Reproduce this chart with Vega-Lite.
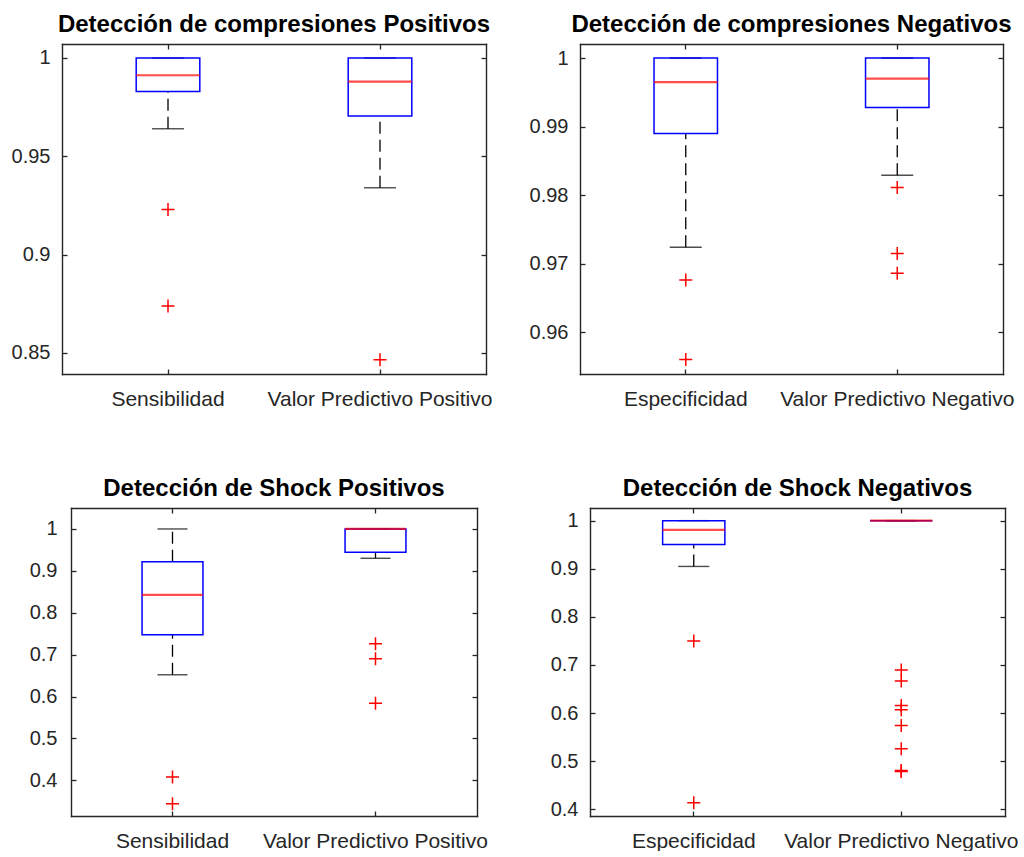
{
  "$schema": "https://vega.github.io/schema/vega-lite/v6.json",
  "background": "white",
  "padding": {"left": 0, "top": 12, "right": 0, "bottom": 0},
  "datasets": {
    "stats": [
      {"panel": "cp", "cat": "Sensibilidad", "lo": 0.964, "q1": 0.9829, "med": 0.9912, "q3": 1, "hi": 1},
      {"panel": "cp", "cat": "Valor Predictivo Positivo", "lo": 0.934, "q1": 0.9705, "med": 0.988, "q3": 1, "hi": 1},
      {"panel": "cn", "cat": "Especificidad", "lo": 0.9724, "q1": 0.989, "med": 0.9965, "q3": 1, "hi": 1},
      {"panel": "cn", "cat": "Valor Predictivo Negativo", "lo": 0.9829, "q1": 0.9928, "med": 0.997, "q3": 1, "hi": 1},
      {"panel": "sp", "cat": "Sensibilidad", "lo": 0.652, "q1": 0.7473, "med": 0.8427, "q3": 0.922, "hi": 1},
      {"panel": "sp", "cat": "Valor Predictivo Positivo", "lo": 0.93, "q1": 0.9443, "med": 1, "q3": 1, "hi": 1},
      {"panel": "sn", "cat": "Especificidad", "lo": 0.9048, "q1": 0.9503, "med": 0.9807, "q3": 1, "hi": 1},
      {"panel": "sn", "cat": "Valor Predictivo Negativo", "lo": 1, "q1": 1, "med": 1, "q3": 1, "hi": 1}
    ],
    "outliers": [
      {"panel": "cp", "cat": "Sensibilidad", "value": 0.9229},
      {"panel": "cp", "cat": "Sensibilidad", "value": 0.8739},
      {"panel": "cp", "cat": "Valor Predictivo Positivo", "value": 0.8466},
      {"panel": "cn", "cat": "Especificidad", "value": 0.9676},
      {"panel": "cn", "cat": "Especificidad", "value": 0.956},
      {"panel": "cn", "cat": "Valor Predictivo Negativo", "value": 0.9811},
      {"panel": "cn", "cat": "Valor Predictivo Negativo", "value": 0.9715},
      {"panel": "cn", "cat": "Valor Predictivo Negativo", "value": 0.9686},
      {"panel": "sp", "cat": "Sensibilidad", "value": 0.4079},
      {"panel": "sp", "cat": "Sensibilidad", "value": 0.3445},
      {"panel": "sp", "cat": "Valor Predictivo Positivo", "value": 0.7259},
      {"panel": "sp", "cat": "Valor Predictivo Positivo", "value": 0.69},
      {"panel": "sp", "cat": "Valor Predictivo Positivo", "value": 0.5843},
      {"panel": "sn", "cat": "Especificidad", "value": 0.7496},
      {"panel": "sn", "cat": "Especificidad", "value": 0.4138},
      {"panel": "sn", "cat": "Valor Predictivo Negativo", "value": 0.6896},
      {"panel": "sn", "cat": "Valor Predictivo Negativo", "value": 0.6669},
      {"panel": "sn", "cat": "Valor Predictivo Negativo", "value": 0.6158},
      {"panel": "sn", "cat": "Valor Predictivo Negativo", "value": 0.6069},
      {"panel": "sn", "cat": "Valor Predictivo Negativo", "value": 0.5744},
      {"panel": "sn", "cat": "Valor Predictivo Negativo", "value": 0.5256},
      {"panel": "sn", "cat": "Valor Predictivo Negativo", "value": 0.4807},
      {"panel": "sn", "cat": "Valor Predictivo Negativo", "value": 0.4787}
    ]
  },
  "spacing": 28,
  "hconcat": [
    {
      "columns": 1,
      "align": "none",
      "spacing": 67,
      "concat": [
        {
          "width": 424, "height": 330,
          "title": {"text": "Detección de compresiones Positivos"},
          "resolve": {"axis": {"x": "independent", "y": "independent"}},
          "layer": [
            {
              "data": {"name": "stats"},
              "transform": [{"filter": "datum.panel === 'cp'"}],
              "mark": {"type": "rule", "color": "black", "strokeWidth": 1.3, "strokeDash": [12, 6]},
              "encoding": {
                "x": {"field": "cat", "type": "nominal", "scale": {"type": "band", "domain": ["Sensibilidad", "Valor Predictivo Positivo"], "paddingInner": 0.7, "paddingOuter": 0.35},
                      "axis": {"orient": "top", "labels": false, "title": null, "minExtent": 0, "maxExtent": 0}},
                "y": {"field": "lo", "type": "quantitative", "scale": {"domain": [0.8393, 1.0071], "nice": false, "zero": false},
                      "axis": {"orient": "right", "labels": false, "title": null, "values": [0.85, 0.9, 0.95, 1], "minExtent": 0, "maxExtent": 0}},
                "y2": {"field": "q1"}
              }
            },
            {
              "data": {"name": "stats"},
              "transform": [{"filter": "datum.panel === 'cp'"}],
              "mark": {"type": "rule", "color": "black", "strokeWidth": 1.3, "strokeDash": [12, 6]},
              "encoding": {
                "x": {"field": "cat", "type": "nominal", "axis": null},
                "y": {"field": "q3", "type": "quantitative", "axis": null},
                "y2": {"field": "hi"}
              }
            },
            {
              "data": {"name": "stats"},
              "transform": [{"filter": "datum.panel === 'cp'"}],
              "mark": {"type": "tick", "color": "black", "size": 32, "thickness": 1.4},
              "encoding": {
                "x": {"field": "cat", "type": "nominal", "axis": null},
                "y": {"field": "lo", "type": "quantitative", "axis": null}
              }
            },
            {
              "data": {"name": "stats"},
              "transform": [{"filter": "datum.panel === 'cp'"}],
              "mark": {"type": "tick", "color": "black", "size": 32, "thickness": 1.4},
              "encoding": {
                "x": {"field": "cat", "type": "nominal", "axis": null},
                "y": {"field": "hi", "type": "quantitative", "axis": null}
              }
            },
            {
              "data": {"name": "stats"},
              "transform": [{"filter": "datum.panel === 'cp'"}],
              "mark": {"type": "bar", "filled": false, "color": "#0000ff", "strokeWidth": 1.5},
              "encoding": {
                "x": {"field": "cat", "type": "nominal", "axis": {"orient": "bottom", "labelAngle": 0, "title": null, "labelPadding": 19, "labelFontSize": 21}},
                "y": {"field": "q1", "type": "quantitative", "axis": {"orient": "left", "title": null, "values": [0.85, 0.9, 0.95, 1], "format": ".2~f", "labelPadding": 17, "minExtent": 62, "maxExtent": 62}},
                "y2": {"field": "q3"}
              }
            },
            {
              "data": {"name": "stats"},
              "transform": [{"filter": "datum.panel === 'cp'"}],
              "mark": {"type": "tick", "color": "#ff0000", "size": 63.6, "thickness": 2.2},
              "encoding": {
                "x": {"field": "cat", "type": "nominal", "axis": null},
                "y": {"field": "med", "type": "quantitative", "axis": null}
              }
            },
            {
              "data": {"name": "outliers"},
              "transform": [{"filter": "datum.panel === 'cp'"}],
              "mark": {"type": "point", "shape": "M-1,0H1M0,-1V1", "filled": false, "color": "#ff0000", "size": 169, "strokeWidth": 1.5, "opacity": 1},
              "encoding": {
                "x": {"field": "cat", "type": "nominal", "axis": null},
                "y": {"field": "value", "type": "quantitative", "axis": null}
              }
            }
          ]
        },
        {
          "width": 415, "height": 308,
          "title": {"text": "Detección de Shock Positivos", "dx": 4.5},
          "resolve": {"axis": {"x": "independent", "y": "independent"}},
          "layer": [
            {
              "data": {"name": "stats"},
              "transform": [{"filter": "datum.panel === 'sp'"}],
              "mark": {"type": "rule", "color": "black", "strokeWidth": 1.3, "strokeDash": [12, 6]},
              "encoding": {
                "x": {"field": "cat", "type": "nominal", "scale": {"type": "band", "domain": ["Sensibilidad", "Valor Predictivo Positivo"], "range": [9, 415], "paddingInner": 0.7, "paddingOuter": 0.35},
                      "axis": {"orient": "top", "labels": false, "title": null, "minExtent": 0, "maxExtent": 0}},
                "y": {"field": "lo", "type": "quantitative", "scale": {"domain": [0.315, 1.05], "nice": false, "zero": false},
                      "axis": {"orient": "right", "labels": false, "title": null, "values": [0.4, 0.5, 0.6, 0.7, 0.8, 0.9, 1], "minExtent": 0, "maxExtent": 0}},
                "y2": {"field": "q1"}
              }
            },
            {
              "data": {"name": "stats"},
              "transform": [{"filter": "datum.panel === 'sp'"}],
              "mark": {"type": "rule", "color": "black", "strokeWidth": 1.3, "strokeDash": [12, 6]},
              "encoding": {
                "x": {"field": "cat", "type": "nominal", "axis": null},
                "y": {"field": "q3", "type": "quantitative", "axis": null},
                "y2": {"field": "hi"}
              }
            },
            {
              "data": {"name": "stats"},
              "transform": [{"filter": "datum.panel === 'sp'"}],
              "mark": {"type": "tick", "color": "black", "size": 30, "thickness": 1.4},
              "encoding": {
                "x": {"field": "cat", "type": "nominal", "axis": null},
                "y": {"field": "lo", "type": "quantitative", "axis": null}
              }
            },
            {
              "data": {"name": "stats"},
              "transform": [{"filter": "datum.panel === 'sp'"}],
              "mark": {"type": "tick", "color": "black", "size": 30, "thickness": 1.4},
              "encoding": {
                "x": {"field": "cat", "type": "nominal", "axis": null},
                "y": {"field": "hi", "type": "quantitative", "axis": null}
              }
            },
            {
              "data": {"name": "stats"},
              "transform": [{"filter": "datum.panel === 'sp'"}],
              "mark": {"type": "bar", "filled": false, "color": "#0000ff", "strokeWidth": 1.5},
              "encoding": {
                "x": {"field": "cat", "type": "nominal", "axis": {"orient": "bottom", "labelAngle": 0, "title": null, "labelPadding": 19, "labelFontSize": 21}},
                "y": {"field": "q1", "type": "quantitative", "axis": {"orient": "left", "offset": -9, "title": null, "values": [0.4, 0.5, 0.6, 0.7, 0.8, 0.9, 1], "format": ".1~f", "labelPadding": 19, "minExtent": 71, "maxExtent": 71}},
                "y2": {"field": "q3"}
              }
            },
            {
              "data": {"name": "stats"},
              "transform": [{"filter": "datum.panel === 'sp'"}],
              "mark": {"type": "tick", "color": "#ff0000", "size": 61, "thickness": 2.2},
              "encoding": {
                "x": {"field": "cat", "type": "nominal", "axis": null},
                "y": {"field": "med", "type": "quantitative", "axis": null}
              }
            },
            {
              "data": {"name": "outliers"},
              "transform": [{"filter": "datum.panel === 'sp'"}],
              "mark": {"type": "point", "shape": "M-1,0H1M0,-1V1", "filled": false, "color": "#ff0000", "size": 169, "strokeWidth": 1.5, "opacity": 1},
              "encoding": {
                "x": {"field": "cat", "type": "nominal", "axis": null},
                "y": {"field": "value", "type": "quantitative", "axis": null}
              }
            }
          ]
        }
      ]
    },
    {
      "columns": 1,
      "align": "none",
      "spacing": 67,
      "concat": [
        {
          "width": 423, "height": 330,
          "title": {"text": "Detección de compresiones Negativos"},
          "resolve": {"axis": {"x": "independent", "y": "independent"}},
          "layer": [
            {
              "data": {"name": "stats"},
              "transform": [{"filter": "datum.panel === 'cn'"}],
              "mark": {"type": "rule", "color": "black", "strokeWidth": 1.3, "strokeDash": [12, 6]},
              "encoding": {
                "x": {"field": "cat", "type": "nominal", "scale": {"type": "band", "domain": ["Especificidad", "Valor Predictivo Negativo"], "paddingInner": 0.7, "paddingOuter": 0.35},
                      "axis": {"orient": "top", "labels": false, "title": null, "minExtent": 0, "maxExtent": 0}},
                "y": {"field": "lo", "type": "quantitative", "scale": {"domain": [0.9539, 1.00205], "nice": false, "zero": false},
                      "axis": {"orient": "right", "labels": false, "title": null, "values": [0.96, 0.97, 0.98, 0.99, 1], "minExtent": 0, "maxExtent": 0}},
                "y2": {"field": "q1"}
              }
            },
            {
              "data": {"name": "stats"},
              "transform": [{"filter": "datum.panel === 'cn'"}],
              "mark": {"type": "rule", "color": "black", "strokeWidth": 1.3, "strokeDash": [12, 6]},
              "encoding": {
                "x": {"field": "cat", "type": "nominal", "axis": null},
                "y": {"field": "q3", "type": "quantitative", "axis": null},
                "y2": {"field": "hi"}
              }
            },
            {
              "data": {"name": "stats"},
              "transform": [{"filter": "datum.panel === 'cn'"}],
              "mark": {"type": "tick", "color": "black", "size": 32, "thickness": 1.4},
              "encoding": {
                "x": {"field": "cat", "type": "nominal", "axis": null},
                "y": {"field": "lo", "type": "quantitative", "axis": null}
              }
            },
            {
              "data": {"name": "stats"},
              "transform": [{"filter": "datum.panel === 'cn'"}],
              "mark": {"type": "tick", "color": "black", "size": 32, "thickness": 1.4},
              "encoding": {
                "x": {"field": "cat", "type": "nominal", "axis": null},
                "y": {"field": "hi", "type": "quantitative", "axis": null}
              }
            },
            {
              "data": {"name": "stats"},
              "transform": [{"filter": "datum.panel === 'cn'"}],
              "mark": {"type": "bar", "filled": false, "color": "#0000ff", "strokeWidth": 1.5},
              "encoding": {
                "x": {"field": "cat", "type": "nominal", "axis": {"orient": "bottom", "labelAngle": 0, "title": null, "labelPadding": 19, "labelFontSize": 21}},
                "y": {"field": "q1", "type": "quantitative", "axis": {"orient": "left", "title": null, "values": [0.96, 0.97, 0.98, 0.99, 1], "format": ".2~f", "labelPadding": 17, "minExtent": 60, "maxExtent": 60}},
                "y2": {"field": "q3"}
              }
            },
            {
              "data": {"name": "stats"},
              "transform": [{"filter": "datum.panel === 'cn'"}],
              "mark": {"type": "tick", "color": "#ff0000", "size": 63.5, "thickness": 2.2},
              "encoding": {
                "x": {"field": "cat", "type": "nominal", "axis": null},
                "y": {"field": "med", "type": "quantitative", "axis": null}
              }
            },
            {
              "data": {"name": "outliers"},
              "transform": [{"filter": "datum.panel === 'cn'"}],
              "mark": {"type": "point", "shape": "M-1,0H1M0,-1V1", "filled": false, "color": "#ff0000", "size": 169, "strokeWidth": 1.5, "opacity": 1},
              "encoding": {
                "x": {"field": "cat", "type": "nominal", "axis": null},
                "y": {"field": "value", "type": "quantitative", "axis": null}
              }
            }
          ]
        },
        {
          "width": 425, "height": 308,
          "title": {"text": "Detección de Shock Negativos", "dx": 5},
          "resolve": {"axis": {"x": "independent", "y": "independent"}},
          "layer": [
            {
              "data": {"name": "stats"},
              "transform": [{"filter": "datum.panel === 'sn'"}],
              "mark": {"type": "rule", "color": "black", "strokeWidth": 1.3, "strokeDash": [12, 6]},
              "encoding": {
                "x": {"field": "cat", "type": "nominal", "scale": {"type": "band", "domain": ["Especificidad", "Valor Predictivo Negativo"], "range": [10, 425], "paddingInner": 0.7, "paddingOuter": 0.35},
                      "axis": {"orient": "top", "labels": false, "title": null, "minExtent": 0, "maxExtent": 0}},
                "y": {"field": "lo", "type": "quantitative", "scale": {"domain": [0.386, 1.0263], "nice": false, "zero": false},
                      "axis": {"orient": "right", "labels": false, "title": null, "values": [0.4, 0.5, 0.6, 0.7, 0.8, 0.9, 1], "minExtent": 0, "maxExtent": 0}},
                "y2": {"field": "q1"}
              }
            },
            {
              "data": {"name": "stats"},
              "transform": [{"filter": "datum.panel === 'sn'"}],
              "mark": {"type": "rule", "color": "black", "strokeWidth": 1.3, "strokeDash": [12, 6]},
              "encoding": {
                "x": {"field": "cat", "type": "nominal", "axis": null},
                "y": {"field": "q3", "type": "quantitative", "axis": null},
                "y2": {"field": "hi"}
              }
            },
            {
              "data": {"name": "stats"},
              "transform": [{"filter": "datum.panel === 'sn'"}],
              "mark": {"type": "tick", "color": "black", "size": 31, "thickness": 1.4},
              "encoding": {
                "x": {"field": "cat", "type": "nominal", "axis": null},
                "y": {"field": "lo", "type": "quantitative", "axis": null}
              }
            },
            {
              "data": {"name": "stats"},
              "transform": [{"filter": "datum.panel === 'sn'"}],
              "mark": {"type": "tick", "color": "black", "size": 31, "thickness": 1.4},
              "encoding": {
                "x": {"field": "cat", "type": "nominal", "axis": null},
                "y": {"field": "hi", "type": "quantitative", "axis": null}
              }
            },
            {
              "data": {"name": "stats"},
              "transform": [{"filter": "datum.panel === 'sn'"}],
              "mark": {"type": "bar", "filled": false, "color": "#0000ff", "strokeWidth": 1.5},
              "encoding": {
                "x": {"field": "cat", "type": "nominal", "axis": {"orient": "bottom", "labelAngle": 0, "title": null, "labelPadding": 19, "labelFontSize": 21}},
                "y": {"field": "q1", "type": "quantitative", "axis": {"orient": "left", "offset": -10, "title": null, "values": [0.4, 0.5, 0.6, 0.7, 0.8, 0.9, 1], "format": ".1~f", "labelPadding": 17, "minExtent": 70, "maxExtent": 70}},
                "y2": {"field": "q3"}
              }
            },
            {
              "data": {"name": "stats"},
              "transform": [{"filter": "datum.panel === 'sn'"}],
              "mark": {"type": "tick", "color": "#ff0000", "size": 62.3, "thickness": 2.2},
              "encoding": {
                "x": {"field": "cat", "type": "nominal", "axis": null},
                "y": {"field": "med", "type": "quantitative", "axis": null}
              }
            },
            {
              "data": {"name": "outliers"},
              "transform": [{"filter": "datum.panel === 'sn'"}],
              "mark": {"type": "point", "shape": "M-1,0H1M0,-1V1", "filled": false, "color": "#ff0000", "size": 169, "strokeWidth": 1.5, "opacity": 1},
              "encoding": {
                "x": {"field": "cat", "type": "nominal", "axis": null},
                "y": {"field": "value", "type": "quantitative", "axis": null}
              }
            }
          ]
        }
      ]
    }
  ],
  "config": {
    "font": "Liberation Sans",
    "view": {"stroke": null},
    "axis": {
      "labelFont": "Liberation Sans",
      "labelFontSize": 20,
      "labelColor": "#262626",
      "labelLimit": 400,
      "domain": true,
      "domainColor": "#262626",
      "domainWidth": 1.4,
      "domainCap": "square",
      "grid": false,
      "tickColor": "#262626",
      "tickSize": -5,
      "tickWidth": 1.3
    },
    "title": {
      "font": "Liberation Sans",
      "fontSize": 24,
      "fontWeight": "bold",
      "color": "#000000",
      "frame": "group",
      "anchor": "middle",
      "baseline": "alphabetic",
      "offset": 6.5
    }
  }
}
